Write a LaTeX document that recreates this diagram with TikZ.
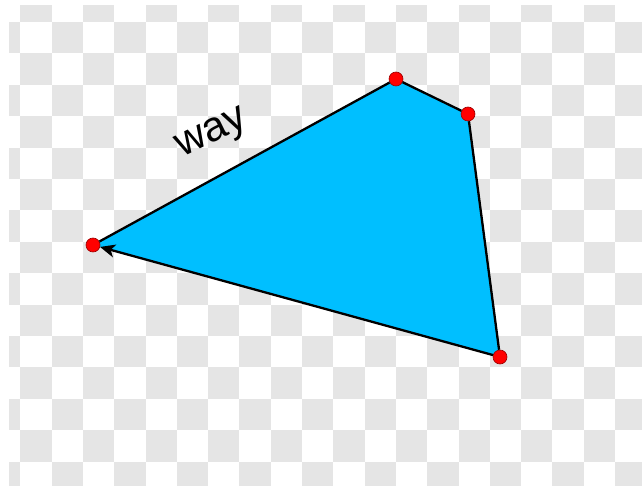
\documentclass[tikz,border=0pt]{standalone}
\usepackage{fontspec}
\setmainfont{Liberation Sans}
\usetikzlibrary{arrows.meta}

\definecolor{wayblue}{HTML}{00BFFF}
\definecolor{checkgrey}{HTML}{E5E5E5}

\begin{document}
\begin{tikzpicture}[x=1pt,y=-1pt,
  vertex/.style={circle,fill=red,draw=red!60!black,line width=.6pt,inner sep=0pt,minimum size=14pt},
  wayline/.style={black,line width=2.3pt,line join=round},
  waylabel/.style={font=\fontsize{42}{48}\selectfont,inner sep=0pt}]
\useasboundingbox[fill=white] (0,0) rectangle (642,486);
% checkerboard
\begin{scope}
\clip (9,6) rectangle (642,486);
\foreach \i in {0,...,20}
  \foreach \j in {0,...,15}{
    \pgfmathtruncatemacro\k{\i+\j}
    \ifodd\k
      \fill[checkgrey] ({20.3+(\i-1)*31.3},{22+(\j-1)*31.4}) rectangle +(31.3,31.4);
    \fi}
\end{scope}
% way corners
\coordinate (a) at (93,245);
\coordinate (b) at (396,79);
\coordinate (c) at (468,114);
\coordinate (d) at (500,357);
\fill[wayblue] (a) -- (b) -- (c) -- (d) -- cycle;
\node[vertex] (na) at (a) {};
\node[vertex] (nb) at (b) {};
\node[vertex] (nc) at (c) {};
\node[vertex] (nd) at (d) {};
\draw[wayline] (na) -- (nb);
\draw[wayline] (nb) -- (nc);
\draw[wayline] (nc) -- (nd);
\draw[wayline,-{Stealth[length=15pt,width=13pt,inset=4pt]}] (nd) -- (na);
\node[waylabel,rotate=26] (lbl) at (213,135) {way};
\end{tikzpicture}
\end{document}
